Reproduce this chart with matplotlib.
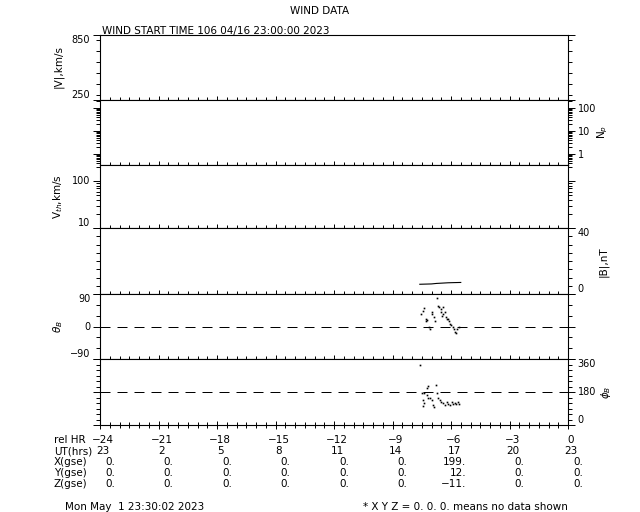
import matplotlib
matplotlib.use('Agg')
import matplotlib.pyplot as plt
import numpy as np
from matplotlib.ticker import MultipleLocator, LogLocator, NullFormatter

# ---------------- data ----------------
rel_hr = [-24, -21, -18, -15, -12, -9, -6, -3, 0]
ut_hrs = ['23', '2', '5', '8', '11', '14', '17', '20', '23']
x_gse = ['0.', '0.', '0.', '0.', '0.', '0.', '199.', '0.', '0.']
y_gse = ['0.', '0.', '0.', '0.', '0.', '0.', '12.', '0.', '0.']
z_gse = ['0.', '0.', '0.', '0.', '0.', '0.', '\u221211.', '0.', '0.']

b_t = [-7.60, -7.30, -7.00, -6.75, -6.45, -6.15, -5.85, -5.50]
b_val = [5.9, 6.0, 6.1, 6.4, 6.6, 6.8, 6.9, 7.0]

th_t = [-7.54, -7.44, -7.40, -7.30, -7.26, -7.22, -7.12, -7.08, -6.99, -6.96,
        -6.87, -6.84, -6.73, -6.68, -6.64, -6.53, -6.49, -6.42, -6.40, -6.44,
        -6.31, -6.27, -6.22, -6.16, -6.10, -6.06, -5.98, -5.92, -5.86, -5.80,
        -5.74, -5.68, -5.60]
th_val = [34, 44, 50, 20, 14, 18, 0, -6, 40, 34,
          26, 15, 79, 57, 53, 48, 40, 55, 34, 30,
          40, 26, 22, 20, 14, 7, 3, -1, -6, -14,
          -17, -8, 0]

ph_t = [-7.59, -7.18, -7.23, -6.77, -7.49, -7.41, -7.44, -7.38, -7.44, -7.23,
        -7.18, -7.08, -6.97, -6.92, -6.87, -6.72, -6.69, -6.56, -6.51, -6.41,
        -6.31, -6.21, -6.15, -6.05, -5.95, -5.90, -5.79, -5.72, -5.64, -5.59]
ph_val = [327, 215, 204, 220, 177, 172, 134, 118, 102, 161,
          145, 150, 134, 107, 97, 172, 150, 134, 123, 118,
          107, 123, 113, 107, 123, 113, 118, 113, 123, 113]

# ---------------- figure ----------------
plt.rcParams['font.family'] = ['DejaVu Sans']
plt.rcParams['font.size'] = 7.5
plt.rcParams['axes.linewidth'] = 0.8

W, H = 640, 512
fig = plt.figure(figsize=(6.4, 5.12), dpi=100)
X0, X1 = 100, 568


def px(x, y):
    return x / W, 1 - y / H


def make_ax(top, bot):
    ax = fig.add_axes([X0 / W, 1 - bot / H, (X1 - X0) / W, (bot - top) / H])
    ax.set_xlim(-24, 0)
    ax.xaxis.set_major_locator(MultipleLocator(3))
    ax.xaxis.set_minor_locator(MultipleLocator(0.5))
    ax.tick_params(axis='x', which='both', direction='inout', bottom=True,
                   top=False, labelbottom=False, width=0.7)
    ax.tick_params(axis='x', which='major', length=6)
    ax.tick_params(axis='x', which='minor', length=4)
    ax.tick_params(axis='y', which='both', direction='out', left=True,
                   right=True, width=0.7, pad=2, labelsize=7)
    ax.tick_params(axis='y', which='major', length=5)
    ax.tick_params(axis='y', which='minor', length=3)
    return ax


def set_side(ax, side):
    if side == 'left':
        ax.tick_params(axis='y', labelleft=True, labelright=False)
    else:
        ax.tick_params(axis='y', labelleft=False, labelright=True)


def va_fix(ax, vas, side):
    labs = ax.get_yticklabels() if side == 'left' else ax.yaxis.get_ticklabels()
    for lab, v in zip(labs, vas):
        lab.set_va(v)


bounds = [35, 100, 165, 228, 294, 359, 425]

# |V|
ax1 = make_ax(bounds[0], bounds[1])
ax1.set_ylim(250, 850)
ax1.set_yticks([250, 850])
ax1.set_yticklabels(['250', '850'])
ax1.yaxis.set_minor_locator(MultipleLocator(100))
set_side(ax1, 'left')
va_fix(ax1, ['bottom', 'top'], 'left')

# Np
ax2 = make_ax(bounds[1], bounds[2])
ax2.set_yscale('log')
ax2.set_ylim(0.33, 225)
ax2.set_yticks([1, 10, 100])
ax2.set_yticklabels(['1', '10', '100'])
ax2.yaxis.set_minor_locator(LogLocator(base=10, subs=np.arange(2, 10), numticks=30))
ax2.yaxis.set_minor_formatter(NullFormatter())
set_side(ax2, 'right')

# Vth
ax3 = make_ax(bounds[2], bounds[3])
ax3.set_yscale('log')
ax3.set_ylim(10, 221)
ax3.set_yticks([10, 100])
ax3.set_yticklabels(['10', '100'])
ax3.yaxis.set_minor_locator(LogLocator(base=10, subs=np.arange(2, 10), numticks=30))
ax3.yaxis.set_minor_formatter(NullFormatter())
set_side(ax3, 'left')
va_fix(ax3, ['bottom', 'center'], 'left')

# |B|
ax4 = make_ax(bounds[3], bounds[4])
ax4.set_ylim(0, 40)
ax4.set_yticks([0, 40])
ax4.set_yticklabels(['0', '40'])
ax4.yaxis.set_minor_locator(MultipleLocator(5))
set_side(ax4, 'right')
va_fix(ax4, ['bottom', 'top'], 'right')
ax4.plot(b_t, b_val, color='k', lw=0.8)

# theta
ax5 = make_ax(bounds[4], bounds[5])
ax5.set_ylim(-90, 90)
ax5.set_yticks([-90, 0, 90])
ax5.set_yticklabels(['\u221290', '0', '90'])
ax5.yaxis.set_minor_locator(MultipleLocator(30))
set_side(ax5, 'left')
va_fix(ax5, ['bottom', 'center', 'top'], 'left')
ax5.axhline(0, color='k', lw=0.72, dashes=(10, 7))
ax5.plot(th_t, th_val, linestyle='none', marker='s', ms=1.2, color='k', mew=0)

# phi
ax6 = make_ax(bounds[5], bounds[6])
ax6.set_ylim(0, 360)
ax6.set_yticks([0, 180, 360])
ax6.set_yticklabels(['0', '180', '360'])
ax6.yaxis.set_minor_locator(MultipleLocator(30))
set_side(ax6, 'right')
va_fix(ax6, ['bottom', 'center', 'top'], 'right')
ax6.axhline(180, color='k', lw=0.72, dashes=(10, 7))
ax6.plot(ph_t, ph_val, linestyle='none', marker='s', ms=1.2, color='k', mew=0)

# axis labels
fig.text(*px(58, 67), '|V|,km/s', rotation=90, ha='center', va='center')
fig.text(*px(58, 197), 'V$_{th}$,km/s', rotation=90, ha='center', va='center')
fig.text(*px(58, 327), r'$\theta_B$', rotation=90, ha='center', va='center')
fig.text(*px(603, 132), 'N$_p$', rotation=90, ha='center', va='center')
fig.text(*px(603, 262), '|B|,nT', rotation=90, ha='center', va='center')
fig.text(*px(606, 392), r'$\phi_B$', rotation=90, ha='center', va='center')

# titles
fig.text(*px(320, 11), 'WIND DATA', ha='center', va='center')
fig.text(*px(102, 31), 'WIND START TIME 106 04/16 23:00:00 2023', ha='left', va='center')

# table
row_y = [440, 451, 462, 473, 484]
row_names = ['rel HR', 'UT(hrs)', 'X(gse)', 'Y(gse)', 'Z(gse)']
for name, yy in zip(row_names, row_y):
    fig.text(*px(54, yy), name, ha='left', va='center')


def hx(h):
    return X0 + (h + 24) / 24 * (X1 - X0)


for i, h in enumerate(rel_hr):
    xc = hx(h)
    lab = str(h).replace('-', '\u2212')
    fig.text(*px(xc + 3, row_y[0]), lab, ha='center', va='center')
    fig.text(*px(xc + 3, row_y[1]), ut_hrs[i], ha='center', va='center')
    fig.text(*px(xc + 15, row_y[2]), x_gse[i], ha='right', va='center')
    fig.text(*px(xc + 15, row_y[3]), y_gse[i], ha='right', va='center')
    fig.text(*px(xc + 15, row_y[4]), z_gse[i], ha='right', va='center')

fig.text(*px(65, 507), 'Mon May  1 23:30:02 2023', ha='left', va='center')
fig.text(*px(363, 507), '* X Y Z = 0. 0. 0. means no data shown', ha='left', va='center')

fig.savefig('out.png', dpi=100)
